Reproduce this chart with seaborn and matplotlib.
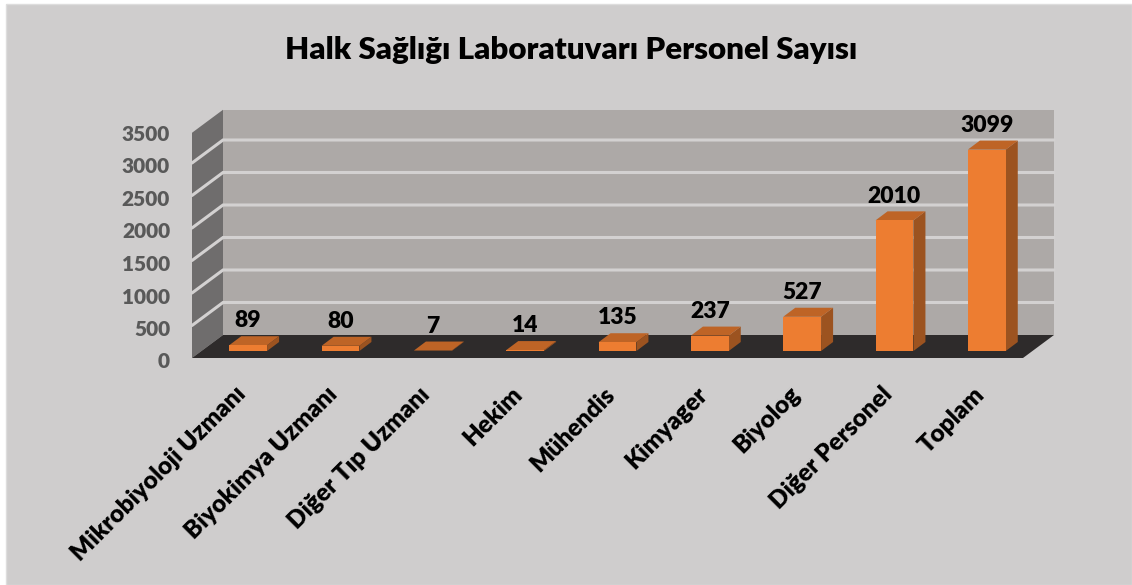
import pandas as pd
import matplotlib
matplotlib.use("Agg")
import matplotlib.pyplot as plt
import seaborn as sns
from matplotlib.patches import Polygon, Rectangle
from matplotlib.transforms import Affine2D, IdentityTransform

categories = ["Mikrobiyoloji Uzmanı", "Biyokimya Uzmanı", "Diğer Tıp Uzmanı", "Hekim", "Mühendis",
              "Kimyager", "Biyolog", "Diğer Personel", "Toplam"]
values = [89, 80, 7, 14, 135, 237, 527, 2010, 3099]
y_ticks = [0, 500, 1000, 1500, 2000, 2500, 3000, 3500]
title = "Halk Sağlığı Laboratuvarı Personel Sayısı"

# colours
BG = "#CFCDCD"
WALL = "#ADA9A7"
SIDE_WALL = "#6F6D6D"
FLOOR = "#2E2B2B"
GRID = "#D3D1D1"
ORANGE = "#ED7D31"
ORANGE_SIDE = "#9C5320"
ORANGE_TOP = "#BE6426"
TICK_COL = "#595959"
HEAVY = "heavy"

# fake 3d offsets in pixels, from the bar plane
BACK = (21, 16)
FRONT = (-10, -7)
BAR_DEPTH = (12, 9)
WALL_TOP = 3465

sns.set_theme(style="white")
plt.rcParams["font.family"] = ["Lato", "DejaVu Sans"]

W, H = 1132, 585
fig = plt.figure(figsize=(W / 100, H / 100), dpi=100, facecolor="white")
fig.add_artist(Rectangle((6 / W, 0), 1 - 6 / W, 1 - 4 / H, transform=fig.transFigure,
                         facecolor=BG, edgecolor="#DEDDDD", linewidth=1, zorder=-1))

ax = fig.add_axes([202 / W, (H - 351) / H, 831 / W, 227.5 / H])
ax.patch.set_alpha(0)
df = pd.DataFrame({"cat": categories, "val": values})
sns.barplot(data=df, x="cat", y="val", color=ORANGE, saturation=1, width=0.41, ax=ax, zorder=5,
            linewidth=0, edgecolor="none")
ax.set_xlim(-0.5, 8.5)
ax.set_ylim(0, 3500)
ax.set_xlabel("")
ax.set_ylabel("")
sns.despine(ax=ax, left=True, bottom=True)


def px(x, v, off=(0, 0)):
    # data point to display pixels, shifted along the depth direction
    a, b = ax.transData.transform((x, v))
    return (a + off[0], b + off[1])


def poly(pts, color, z):
    ax.add_patch(Polygon(pts, closed=True, facecolor=color, edgecolor="none",
                         transform=IdentityTransform(), clip_on=False, zorder=z))


x0, x1 = -0.5, 8.5
# back wall, left wall, floor
poly([px(x0, 0, BACK), px(x1, 0, BACK), px(x1, WALL_TOP, BACK), px(x0, WALL_TOP, BACK)], WALL, 1)
poly([px(x0, 0, FRONT), px(x0, 0, BACK), px(x0, WALL_TOP, BACK), px(x0, WALL_TOP, FRONT)], SIDE_WALL, 1)
poly([px(x0, 0, FRONT), px(x1, 0, FRONT), px(x1, 0, BACK), px(x0, 0, BACK)], FLOOR, 2)

# gridlines on both walls
for t in y_ticks[1:-1]:
    pts = [px(x0, t, FRONT), px(x0, t, BACK), px(x1, t, BACK)]
    ax.plot([p[0] for p in pts], [p[1] for p in pts], color=GRID, lw=2.2,
            transform=IdentityTransform(), clip_on=False, zorder=3, solid_joinstyle="miter")

# sides and tops of the bars
for bar, val in zip(ax.patches[:len(values)], values):
    left = bar.get_x()
    right = left + bar.get_width()
    poly([px(right, 0), px(right, 0, BAR_DEPTH), px(right, val, BAR_DEPTH), px(right, val)], ORANGE_SIDE, 4)
    poly([px(left, val), px(right, val), px(right, val, BAR_DEPTH), px(left, val, BAR_DEPTH)], ORANGE_TOP, 4)
    ax.annotate(str(val), xy=(left + bar.get_width() / 2, val), xytext=(0, 17.5),
                textcoords="offset points", ha="center", va="center",
                fontsize=16.5, fontweight=HEAVY, color="black", zorder=6, annotation_clip=False)

ax.set_yticks(y_ticks)
ax.set_yticklabels([str(t) for t in y_ticks])
ax.tick_params(axis="y", length=0, pad=23, labelsize=15, labelcolor=TICK_COL)
ax.tick_params(axis="x", length=0, pad=23, labelsize=17.5, labelcolor="black")
shift = Affine2D().translate(0, -9.5)
for lab in ax.get_yticklabels():
    lab.set_transform(lab.get_transform() + shift)
    lab.set_fontweight(HEAVY)
shift_x = Affine2D().translate(-14, 0)
for lab in ax.get_xticklabels():
    lab.set_transform(lab.get_transform() + shift_x)
    lab.set_rotation(45)
    lab.set_ha("right")
    lab.set_rotation_mode("anchor")
    lab.set_fontweight(HEAVY)

fig.text(571 / W, (H - 50) / H, title, ha="center", va="center", fontsize=22.5, fontweight=HEAVY, color="black")

fig.savefig("out.png", dpi=100)
